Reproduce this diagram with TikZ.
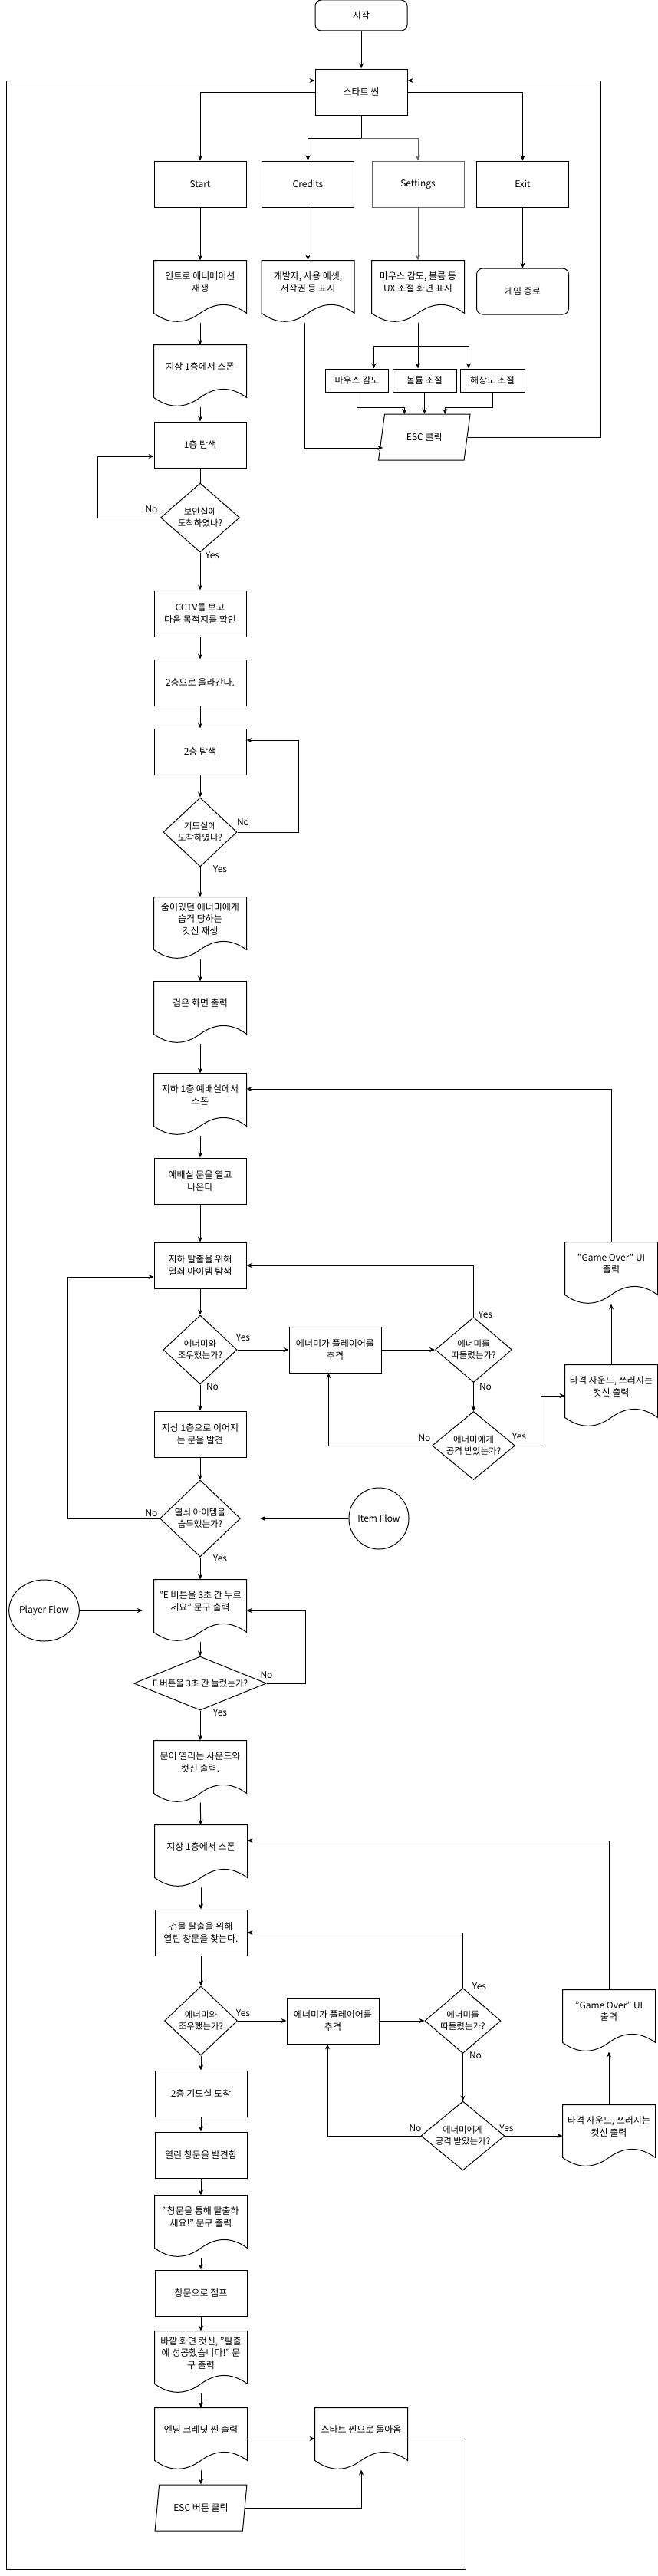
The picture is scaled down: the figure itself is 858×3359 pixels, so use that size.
\documentclass[tikz,border=0pt]{standalone}
\usepackage{fontspec}
\setmainfont{Noto Sans CJK KR}
\usetikzlibrary{arrows.meta,shapes.geometric}

% document shape with wavy bottom, text raised above the wave
\newdimen\docL \newdimen\docR \newdimen\docB \newdimen\docT \newdimen\docW \newdimen\docD
\makeatletter
\pgfdeclareshape{wavedoc}{%
  \inheritsavedanchors[from=rectangle]%
  \inheritanchorborder[from=rectangle]%
  \inheritanchor[from=rectangle]{center}%
  \inheritanchor[from=rectangle]{north}%
  \inheritanchor[from=rectangle]{south}%
  \inheritanchor[from=rectangle]{east}%
  \inheritanchor[from=rectangle]{west}%
  \inheritanchor[from=rectangle]{north east}%
  \inheritanchor[from=rectangle]{north west}%
  \inheritanchor[from=rectangle]{south east}%
  \inheritanchor[from=rectangle]{south west}%
  \anchor{text}{\pgfqpoint{0pt}{12pt}}%
  \backgroundpath{%
    \southwest \docL=\pgf@x \docB=\pgf@y
    \northeast \docR=\pgf@x \docT=\pgf@y
    \docW=\docR \advance\docW by-\docL
    \docD=\docT \advance\docD by-\docB
    \docD=0.3\docD
    \pgfpathmoveto{\pgfqpoint{\docL}{\docT}}%
    \pgfpathlineto{\pgfqpoint{\docR}{\docT}}%
    \pgfpathlineto{\pgfqpoint{\docR}{\dimexpr\docB+0.5\docD\relax}}%
    \pgfpathquadraticcurveto
      {\pgfqpoint{\dimexpr\docL+0.75\docW\relax}{\dimexpr\docB+1.4\docD\relax}}%
      {\pgfqpoint{\dimexpr\docL+0.5\docW\relax}{\dimexpr\docB+0.5\docD\relax}}%
    \pgfpathquadraticcurveto
      {\pgfqpoint{\dimexpr\docL+0.25\docW\relax}{\dimexpr\docB-0.4\docD\relax}}%
      {\pgfqpoint{\docL}{\dimexpr\docB+0.5\docD\relax}}%
    \pgfpathclose
  }%
}
\makeatother

\begin{document}
\begin{tikzpicture}[
  x=1pt, y=-1pt,
  font=\fontsize{12}{15.5}\selectfont,
  proc/.style={rectangle, draw=black, line width=1pt, inner sep=2pt, align=center, minimum width=120pt, minimum height=60pt},
  term/.style={proc, rounded corners=8pt},
  subbox/.style={proc, minimum height=30pt},
  doc/.style={wavedoc, draw=black, line width=1pt, inner sep=0pt, align=center, minimum width=120pt, minimum height=80pt},
  dec/.style={diamond, draw=black, line width=1pt, inner sep=0pt, align=center, minimum width=96pt, minimum height=90pt, aspect=1.07, font=\fontsize{11.5}{15}\selectfont},
  io/.style={trapezium, trapezium left angle=71.57, trapezium right angle=108.43, trapezium stretches=true, draw=black, line width=1pt, inner sep=0pt, minimum width=120pt, minimum height=60pt},
  flow/.style={ellipse, draw=black, line width=1pt, inner sep=0pt, minimum width=78pt, minimum height=80pt},
  arr/.style={-{Stealth[length=7pt,width=6pt]}, line width=1pt},
  link/.style={line width=1pt},
  lbl/.style={inner sep=0pt}
]
\useasboundingbox (0,0) rectangle (858,3359);

% Start screen
\node[term, minimum height=40pt] (start) at (471,20) {시작};
\node[proc] (scene) at (471,120) {스타트 씬};
\node[proc] (bStart) at (261,240) {Start};
\node[proc] (bCredits) at (401.5,240) {Credits};
\node[proc, draw=black!60] (bSettings) at (545,240) {Settings};
\node[proc] (bExit) at (681.5,240) {Exit};
\node[doc] (dIntro) at (261,380) {인트로 애니메이션\\재생};
\node[doc] (dCredits) at (401.5,380) {개발자, 사용 에셋,\\저작권 등 표시};
\node[doc] (dSettings) at (545,380) {마우스 감도, 볼륨 등\\UX 조절 화면 표시};
\node[term] (quit) at (681.5,380) {게임 종료};
\node[subbox, minimum width=82pt] (sMouse) at (465.5,496) {마우스 감도};
\node[subbox, minimum width=83pt] (sVolume) at (553.5,496) {볼륨 조절};
\node[subbox, minimum width=84pt] (sRes) at (642,496) {해상도 조절};
\node[io] (esc) at (553.3,570) {ESC 클릭};

% 1F and 2F
\node[doc] (dSpawn1) at (261,490) {지상 1층에서 스폰};
\node[proc] (bFloor1) at (261,580) {1층 탐색};
\node[dec, minimum width=103pt, aspect=1.14] (q1) at (261,675) {보안실에\\도착하였나?};
\node[proc] (bCCTV) at (261,800) {CCTV를 보고\\다음 목적지를 확인};
\node[proc] (bUp) at (261,890) {2층으로 올라간다.};
\node[proc] (bFloor2) at (261,980) {2층 탐색};
\node[dec] (q2) at (261,1085) {기도실에\\도착하였나?};
\node[doc] (dAmbush) at (261,1210) {숨어있던 에너미에게\\습격 당하는\\컷신 재생};
\node[doc] (dBlack) at (261,1320) {검은 화면 출력};

% Basement
\node[doc] (dB1) at (261,1440) {지하 1층 예배실에서\\스폰};
\node[proc] (bChapel) at (261,1540) {예배실 문을 열고\\나온다};
\node[proc] (bKey) at (261,1650) {지하 탈출을 위해\\열쇠 아이템 탐색};
\node[dec] (q3) at (261,1760) {에너미와\\조우했는가?};
\node[proc] (bChase1) at (437,1760) {에너미가 플레이어를\\추격};
\node[dec, minimum width=100pt, minimum height=85pt, aspect=1.18] (q4) at (617.5,1760) {에너미를\\따돌렸는가?};
\node[dec, minimum width=108pt, minimum height=89pt, aspect=1.21] (q5) at (617.5,1885) {에너미에게\\공격 받았는가?};
\node[doc] (dHit1) at (797,1820) {타격 사운드, 쓰러지는\\컷신 출력};
\node[doc] (dOver1) at (797,1660) {"Game Over" UI\\출력};
\node[proc] (bDoor) at (261,1870) {지상 1층으로 이어지\\는 문을 발견};
\node[dec, minimum width=105pt, minimum height=100pt, aspect=1.05] (q6) at (261,1980) {열쇠 아이템을\\습득했는가?};
\node[flow] (itemFlow) at (494,1980) {Item Flow};
\coordinate (itemEnd) at (339,1980);
\node[flow, minimum width=79pt] (playerFlow) at (57.5,2100) {Player Flow};
\coordinate (playerEnd) at (186,2100);
\node[doc] (dPress) at (261,2100) {"E 버튼을 3초 간 누르\\세요" 문구 출력};
\node[dec, minimum width=173pt, minimum height=70pt, aspect=2.47] (q7) at (261,2195) {E 버튼을 3초 간 눌렀는가?};
\node[doc] (dOpen) at (261,2310) {문이 열리는 사운드와\\컷신 출력.};

% Ground floor escape
\node[doc] (dSpawn2) at (262,2420) {지상 1층에서 스폰};
\node[proc] (bWindow) at (262,2520) {건물 탈출을 위해\\열린 창문을 찾는다.};
\node[dec, minimum width=95pt] (q8) at (262,2635) {에너미와\\조우했는가?};
\node[proc] (bChase2) at (434,2635) {에너미가 플레이어를\\추격};
\node[dec, minimum width=99pt, minimum height=85pt, aspect=1.16] (q9) at (603.5,2635) {에너미를\\따돌렸는가?};
\node[dec, minimum width=109pt, aspect=1.21] (q10) at (603.5,2785) {에너미에게\\공격 받았는가?};
\node[doc] (dHit2) at (794,2785) {타격 사운드, 쓰러지는\\컷신 출력};
\node[doc] (dOver2) at (794,2635) {"Game Over" UI\\출력};
\node[proc] (bArrive) at (262,2730) {2층 기도실 도착};
\node[proc] (bFound) at (262,2810) {열린 창문을 발견함};
\node[doc] (dEscape) at (262,2903) {"창문을 통해 탈출하\\세요!" 문구 출력};
\node[proc] (bJump) at (262,2990) {창문으로 점프};
\node[doc] (dOutside) at (262,3080) {바깥 화면 컷신, "탈출\\에 성공했습니다!" 문\\구 출력};
\node[doc] (dEnding) at (262,3180) {엔딩 크레딧 씬 출력};
\node[doc] (dBack) at (471,3180) {스타트 씬으로 돌아옴};
\node[io] (escBtn) at (262,3270) {ESC 버튼 클릭};
\coordinate (loopBR) at (607,3350);
\coordinate (loopBL) at (8,3350);

% Yes / No labels
\node[lbl] (q1no) at (197.5,664) {No};
\node[lbl] (q1yes) at (277,724) {Yes};
\node[lbl] (q2no) at (317,1072) {No};
\node[lbl] (q2yes) at (287,1133) {Yes};
\node[lbl] (q3yes) at (317,1744) {Yes};
\node[lbl] (q3no) at (277,1808) {No};
\node[lbl] (q4yes) at (633,1714) {Yes};
\node[lbl] (q4no) at (633,1808) {No};
\node[lbl] (q5no) at (553.5,1875) {No};
\node[lbl] (q5yes) at (677,1873) {Yes};
\node[lbl] (q6no) at (197.5,1973) {No};
\node[lbl] (q6yes) at (287,2032) {Yes};
\node[lbl] (q7no) at (347.5,2184) {No};
\node[lbl] (q7yes) at (287,2233) {Yes};
\node[lbl] (q8yes) at (317,2625) {Yes};
\node[lbl] (q9yes) at (625,2590) {Yes};
\node[lbl] (q9no) at (620,2680) {No};
\node[lbl] (q10no) at (541.5,2775) {No};
\node[lbl] (q10yes) at (660.5,2775) {Yes};

% Start screen connections
\draw[arr] (start) -- (scene);
\draw[arr] (scene.west) -| (bStart);
\draw[arr] (scene.south) -- ++(0,30) -| (bCredits);
\draw[arr, black!60] (scene.south) ++(0,30) -| (bSettings);
\draw[arr] (scene.east) -| (bExit);
\draw[arr] (bStart) -- (dIntro);
\draw[arr] (bCredits) -- (dCredits);
\draw[arr, black!60] (bSettings) -- (dSettings);
\draw[arr] (bExit) -- (quit);
\draw[arr] ([xshift=-4.5pt]dCredits.south) |- ([xshift=-54pt, yshift=-14pt]esc.center);
\draw[arr] (dSettings.south) -- ++(0,31) -| ([xshift=22pt]sMouse.north);
\draw[arr] (dSettings.south) -- (sVolume.north -| dSettings.south);
\draw[arr] (dSettings.south) -- ++(0,31) -| ([xshift=-31pt]sRes.north);
\draw[arr] (sMouse.south) -- ++(0,20) -| ([xshift=-26pt, yshift=30pt]esc.center);
\draw[arr] (sVolume.south) -- (sVolume.south |- esc.north);
\draw[arr] (sRes.south) -- ++(0,20) -| ([xshift=27pt, yshift=30pt]esc.center);
\draw[arr] (esc.right side) -- ++(174,0) |- ([yshift=15pt]scene.east);

% Main flow
\draw[arr] (dIntro) -- (dSpawn1);
\draw[arr] (dSpawn1) -- (bFloor1);
\draw[link] (bFloor1) -- (q1);
\draw[arr] (q1.west) -- ++(-81.5,0) |- ([yshift=-15pt]bFloor1.west);
\draw[arr] (q1) -- (bCCTV);
\draw[arr] (bCCTV) -- (bUp);
\draw[arr] (bUp) -- (bFloor2);
\draw[arr] (bFloor2) -- (q2);
\draw[arr] (q2.east) -- ++(79.5,0) |- ([yshift=15pt]bFloor2.east);
\draw[arr] (q2) -- (dAmbush);
\draw[arr] (dAmbush) -- (dBlack);
\draw[arr] (dBlack) -- (dB1);
\draw[arr] (dB1) -- (bChapel);
\draw[arr] (bChapel) -- (bKey);
\draw[arr] (bKey) -- (q3);
\draw[arr] (q3) -- (bChase1);
\draw[arr] (bChase1) -- (q4);
\draw[arr] (q4.north) |- (bKey.east);
\draw[arr] (q4) -- (q5);
\draw[arr] (q5.west) -| ([xshift=-8.5pt]bChase1.south);
\draw[arr] (q5.east) -- ++(33,0) |- (dHit1.west);
\draw[arr] (dHit1) -- (dOver1);
\draw[arr] (dOver1.north) |- ([yshift=20pt]dB1.east);
\draw[arr] (q3) -- (bDoor);
\draw[arr] (bDoor) -- (q6);
\draw[arr] (q6.west) -- ++(-119.5,0) |- ([yshift=-15pt]bKey.west);
\draw[arr] (itemFlow) -- (itemEnd);
\draw[arr] (playerFlow) -- (playerEnd);
\draw[arr] (q6) -- (dPress);
\draw[arr] (dPress) -- (q7);
\draw[arr] (q7.east) -- ++(50.5,0) |- (dPress.east);
\draw[arr] (q7) -- (dOpen);
\draw[arr] (dOpen) -- (dSpawn2);
\draw[arr] (dSpawn2) -- (bWindow);
\draw[arr] (bWindow) -- (q8);
\draw[arr] (q8) -- (bChase2);
\draw[arr] (bChase2) -- (q9);
\draw[arr] (q9.north) |- (bWindow.east);
\draw[arr] (q9) -- (q10);
\draw[arr] (q10.west) -| ([xshift=-7pt]bChase2.south);
\draw[arr] (q10) -- (dHit2);
\draw[arr] (dHit2) -- (dOver2);
\draw[arr] (dOver2.north) |- ([yshift=20pt]dSpawn2.east);
\draw[arr] (q8) -- (bArrive);
\draw[arr] (bArrive) -- (bFound);
\draw[arr] (bFound) -- (dEscape);
\draw[arr] (dEscape) -- (bJump);
\draw[arr] (bJump) -- (dOutside);
\draw[arr] (dOutside) -- (dEnding);
\draw[arr] (dEnding) -- (dBack);
\draw[arr] (dEnding) -- (dEnding.south |- escBtn.north);
\draw[arr] (escBtn.right side) -| (dBack);

% Back to start screen
\draw[arr] (dBack.east) -| (loopBR) -- (loopBL) |- ([yshift=15pt]scene.west);

\end{tikzpicture}
\end{document}
